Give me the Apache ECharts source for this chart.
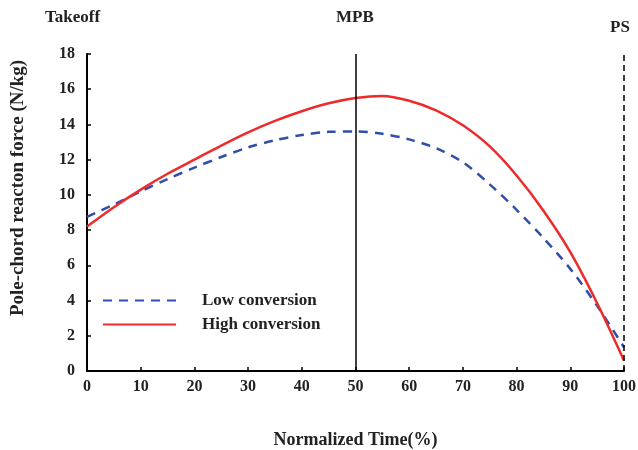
<!DOCTYPE html>
<html>
<head>
<meta charset="utf-8">
<script src="https://cdn.jsdelivr.net/npm/echarts@6/dist/echarts.min.js"></script>
<style>
  html, body { margin: 0; padding: 0; background: #fff; }
</style>
</head>
<body>
<div id="chart" style="width: 638px; height: 450px;"></div>
<script>
// normalized time (%)
const timePct = [0, 5, 10, 15, 20, 25, 30, 35, 40, 45, 50, 55, 60, 65, 70, 75, 80, 85, 90, 95, 100];
// pole-chord reaction force (N/kg)
const lowConversion = [8.75, 9.45, 10.2, 10.9, 11.55, 12.15, 12.7, 13.1, 13.4, 13.58, 13.6, 13.47, 13.15, 12.65, 11.85, 10.6, 9.15, 7.55, 5.8, 3.7, 1.35];
const highConversion = [8.2, 9.3, 10.3, 11.2, 12.0, 12.8, 13.55, 14.2, 14.75, 15.2, 15.5, 15.62, 15.35, 14.8, 13.95, 12.75, 11.1, 9.1, 6.75, 3.85, 0.6];
const phaseMarks = [50, 100];

const font = 'Liberation Serif';

const option = {
    animation: false,
    grid: { left: 87, right: 14, top: 54, bottom: 79, outerBoundsMode: 'none' },
    legend: {
        orient: 'vertical',
        left: 97,
        top: 287,
        itemWidth: 73,
        itemHeight: 12,
        itemGap: 7,
        itemStyle: { opacity: 0 },
        textStyle: { fontFamily: font, fontWeight: 'bold', fontSize: 17, color: '#222', padding: [0, 0, 0, 21] },
        data: ['Low conversion', 'High conversion']
    },
    xAxis: {
        type: 'value',
        min: 0,
        max: 100,
        interval: 10,
        name: 'Normalized Time(%)',
        nameLocation: 'middle',
        nameGap: 60,
        nameTextStyle: { fontFamily: font, fontWeight: 'bold', fontSize: 18, color: '#222' },
        axisLine: { lineStyle: { color: '#000', width: 2 } },
        axisTick: { inside: true, length: 4, lineStyle: { color: '#000', width: 1.5 } },
        axisLabel: { fontFamily: font, fontWeight: 'bold', fontSize: 16, color: '#222', margin: 8 },
        splitLine: { show: false }
    },
    yAxis: {
        type: 'value',
        min: 0,
        max: 18,
        interval: 2,
        axisLine: { show: true, lineStyle: { color: '#000', width: 2 } },
        axisTick: { show: true, inside: true, length: 4, lineStyle: { color: '#000', width: 1.5 } },
        axisLabel: { fontFamily: font, fontWeight: 'bold', fontSize: 16, color: '#222', margin: 12 },
        splitLine: { show: false }
    },
    graphic: [
        { type: 'text', left: 45, top: 9, style: { text: 'Takeoff', font: 'bold 17px "Liberation Serif"', fill: '#222' } },
        { type: 'text', left: 336, top: 9, style: { text: 'MPB', font: 'bold 17px "Liberation Serif"', fill: '#222' } },
        { type: 'text', left: 610, top: 19, style: { text: 'PS', font: 'bold 17px "Liberation Serif"', fill: '#222' } },
        {
            type: 'text', x: 18, y: 188, rotation: Math.PI / 2, originX: 0, originY: 0,
            style: { text: 'Pole-chord reacton force (N/kg)', font: 'bold 19px "Liberation Serif"', fill: '#222', align: 'center', verticalAlign: 'middle' }
        }
    ],
    series: [
        {
            name: 'Low conversion',
            type: 'line',
            smooth: 0.3,
            showSymbol: false,
            symbol: 'none',
            color: '#2f4fa8',
            lineStyle: { color: '#2f4fa8', width: 2.5, type: [9, 7] },
            data: timePct.map((t, i) => [t, lowConversion[i]]),
            z: 3
        },
        {
            name: 'High conversion',
            type: 'line',
            smooth: 0.3,
            showSymbol: false,
            symbol: 'none',
            color: '#ee2a2a',
            lineStyle: { color: '#ee2a2a', width: 2.5 },
            data: timePct.map((t, i) => [t, highConversion[i]]),
            z: 4,
            markLine: {
                silent: true,
                symbol: 'none',
                label: { show: false },
                data: [
                    { xAxis: phaseMarks[0], lineStyle: { color: '#000', width: 1.5, type: 'solid' } },
                    { xAxis: phaseMarks[1], lineStyle: { color: '#000', width: 1.5, type: [6, 4] } }
                ]
            }
        }
    ]
};

const myChart = echarts.init(document.getElementById('chart'));
myChart.setOption(option);
</script>
</body>
</html>
